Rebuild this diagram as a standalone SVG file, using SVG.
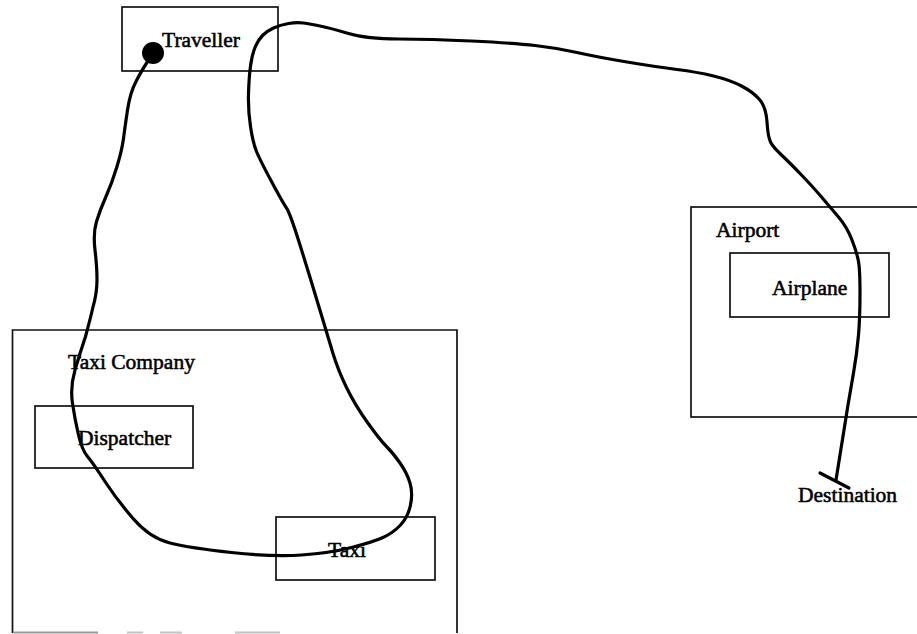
<svg xmlns="http://www.w3.org/2000/svg" width="917" height="634" viewBox="0 0 917 634">
<style>
.box{fill:none;stroke:#111;stroke-width:1.7}
.lbl{font-family:"Liberation Serif","Times New Roman",serif;font-size:21.5px;fill:#000;stroke:#000;stroke-width:0.55}
.wire{fill:none;stroke:#000;stroke-width:3.2;stroke-linecap:round;stroke-linejoin:round}
.faint{stroke:#999;stroke-width:2}
</style>
<rect width="917" height="634" fill="#fff"/>
<g id="taxi-company">
<path class="box" d="M12.5,633 L12.5,330 L457,330 L457,633"/>
<line class="faint" x1="13" y1="632.5" x2="98" y2="632.5"/>
<line class="faint" x1="127" y1="632.5" x2="143" y2="632.5" stroke-opacity="0.6"/>
<line class="faint" x1="160" y1="632.5" x2="182" y2="632.5" stroke-opacity="0.6"/>
<line class="faint" x1="235" y1="632.5" x2="280" y2="632.5" stroke-opacity="0.6"/>
<text class="lbl" x="68" y="369">Taxi Company</text>
</g>
<g id="dispatcher">
<rect class="box" x="35" y="406" width="158" height="62"/>
<text class="lbl" x="78" y="445">Dispatcher</text>
</g>
<g id="taxi">
<rect class="box" x="276" y="517" width="159" height="63"/>
<text class="lbl" x="328" y="557">Taxi</text>
</g>
<g id="traveller">
<rect class="box" x="122" y="7" width="156" height="64"/>
<text class="lbl" x="162" y="47">Traveller</text>
</g>
<g id="airport">
<rect class="box" x="691" y="207" width="240" height="210"/>
<text class="lbl" x="716" y="237">Airport</text>
</g>
<g id="airplane">
<rect class="box" x="730" y="253" width="159" height="64"/>
<text class="lbl" x="772" y="295">Airplane</text>
</g>
<g id="destination">
<text class="lbl" x="798" y="502">Destination</text>
</g>
<g id="connectors">
<path class="wire" d="M150,58 L146,64 Q142,70 136,81.5 Q130,93 127.5,110 Q125,127 123.5,138.5 Q122,150 117,166.5 Q112,183 106,196.5 Q100,210 96.5,221.5 Q93,233 95,250 Q97,267 97,280 Q97,293 93,307 Q90,320 85.5,336.5 Q80,353 75,370 Q70,387 72.5,403.5 Q75,420 78.5,435 Q82,450 87.5,456.5 Q93,463 105,481.5 Q117,500 133.5,519 Q150,538 170,543 Q190,548 231.5,552.5 Q273,557 301.5,555 Q330,553 351.5,547.5 Q373,542 383,537.5 Q393,533 400.5,525 Q408,517 410.5,505 Q413,493 410,483 Q407,473 400,463 Q393,453 386.5,446.5 Q380,440 367.5,422.5 Q355,405 346.5,387.5 Q338,370 333,353.5 Q328,337 319,307 Q310,277 300,245 Q290,213 286.5,208 Q283,203 271.5,181.5 Q260,160 256.5,151.5 Q253,143 250.5,126.5 Q248,110 248.5,93.5 Q249,77 250.5,66 Q252,55 255,47.5 Q258,40 262.5,35.5 Q267,31 273.5,28 Q280,25 288.5,23.5 Q297,22 303.5,23 Q310,24 320,26 Q330,28 348.5,33.5 Q367,39 398.5,39 Q430,39 471.5,41 Q513,43 535,45.5 Q557,48 577,52.5 Q597,57 627,62 Q657,67 677,69.5 Q697,72 713.5,76 Q730,80 741.5,86 Q753,92 759.5,99.5 Q766,107 767,122 Q768,137 770.5,142 Q773,147 781.5,155 Q790,163 801.5,175 Q813,187 821.5,197 Q830,207 838.5,217 Q847,227 852,240 Q857,253 858.5,261.5 Q860,270 860,293.5 Q860,317 858.5,335 Q857,353 853.5,373 Q850,393 848,405 Q846,417 836,480"/>
<circle cx="153" cy="53" r="11" fill="#000"/>
<line class="wire" x1="820" y1="473" x2="849" y2="488"/>
</g>
</svg>
